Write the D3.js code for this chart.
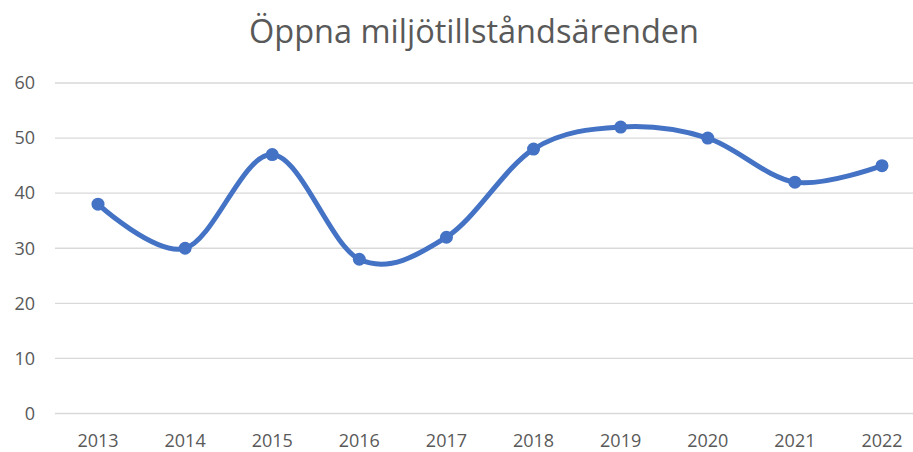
<!DOCTYPE html>
<html>
<head>
<meta charset="utf-8">
<script src="https://cdn.jsdelivr.net/npm/d3@7"></script>
<style>
  body { margin: 0; background: #fff; }
  svg { display: block; font-family: "Open Sans", "Noto Sans", sans-serif; }
</style>
</head>
<body>
<div id="chart"></div>
<script>
// chart data
var title = "Öppna miljötillståndsärenden";
var years = ["2013", "2014", "2015", "2016", "2017", "2018", "2019", "2020", "2021", "2022"];
var values = [38, 30, 47, 28, 32, 48, 52, 50, 42, 45];
var yTicks = [0, 10, 20, 30, 40, 50, 60];

var width = 913, height = 452;

var svg = d3.select("#chart").append("svg")
    .attr("width", width)
    .attr("height", height);

// plot area runs a bit past the right edge, like the cropped original
var x = d3.scalePoint()
    .domain(years)
    .range([98, 882]);

var y = d3.scaleLinear()
    .domain([0, 60])
    .range([413.5, 83]);

// horizontal gridlines
svg.append("g")
    .selectAll("line")
    .data(yTicks)
    .enter().append("line")
    .attr("x1", 55)
    .attr("x2", 926)
    .attr("y1", d => y(d))
    .attr("y2", d => y(d))
    .style("stroke", "#d9d9d9")
    .style("stroke-width", 1.3);

// y axis labels
svg.append("g")
    .selectAll("text")
    .data(yTicks)
    .enter().append("text")
    .attr("x", 35)
    .attr("y", d => y(d))
    .attr("dy", "0.35em")
    .style("text-anchor", "end")
    .style("font-size", "18px")
    .style("fill", "#595959")
    .text(d => d);

// x axis labels
svg.append("g")
    .selectAll("text")
    .data(years)
    .enter().append("text")
    .attr("x", d => x(d))
    .attr("y", 447)
    .style("text-anchor", "middle")
    .style("font-size", "18px")
    .style("fill", "#595959")
    .text(d => d);

// title
svg.append("text")
    .attr("x", 474)
    .attr("y", 43)
    .style("text-anchor", "middle")
    .style("font-size", "32.5px")
    .style("fill", "#595959")
    .text(title);

// smoothed line
var line = d3.line()
    .x((d, i) => x(years[i]))
    .y(d => y(d))
    .curve(d3.curveCardinal.tension(0));

svg.append("path")
    .datum(values)
    .attr("d", line)
    .style("fill", "none")
    .style("stroke", "#4472c4")
    .style("stroke-width", 5)
    .style("stroke-linecap", "round");

// markers
svg.append("g")
    .selectAll("circle")
    .data(values)
    .enter().append("circle")
    .attr("cx", (d, i) => x(years[i]))
    .attr("cy", d => y(d))
    .attr("r", 6.5)
    .style("fill", "#4472c4");
</script>
</body>
</html>
